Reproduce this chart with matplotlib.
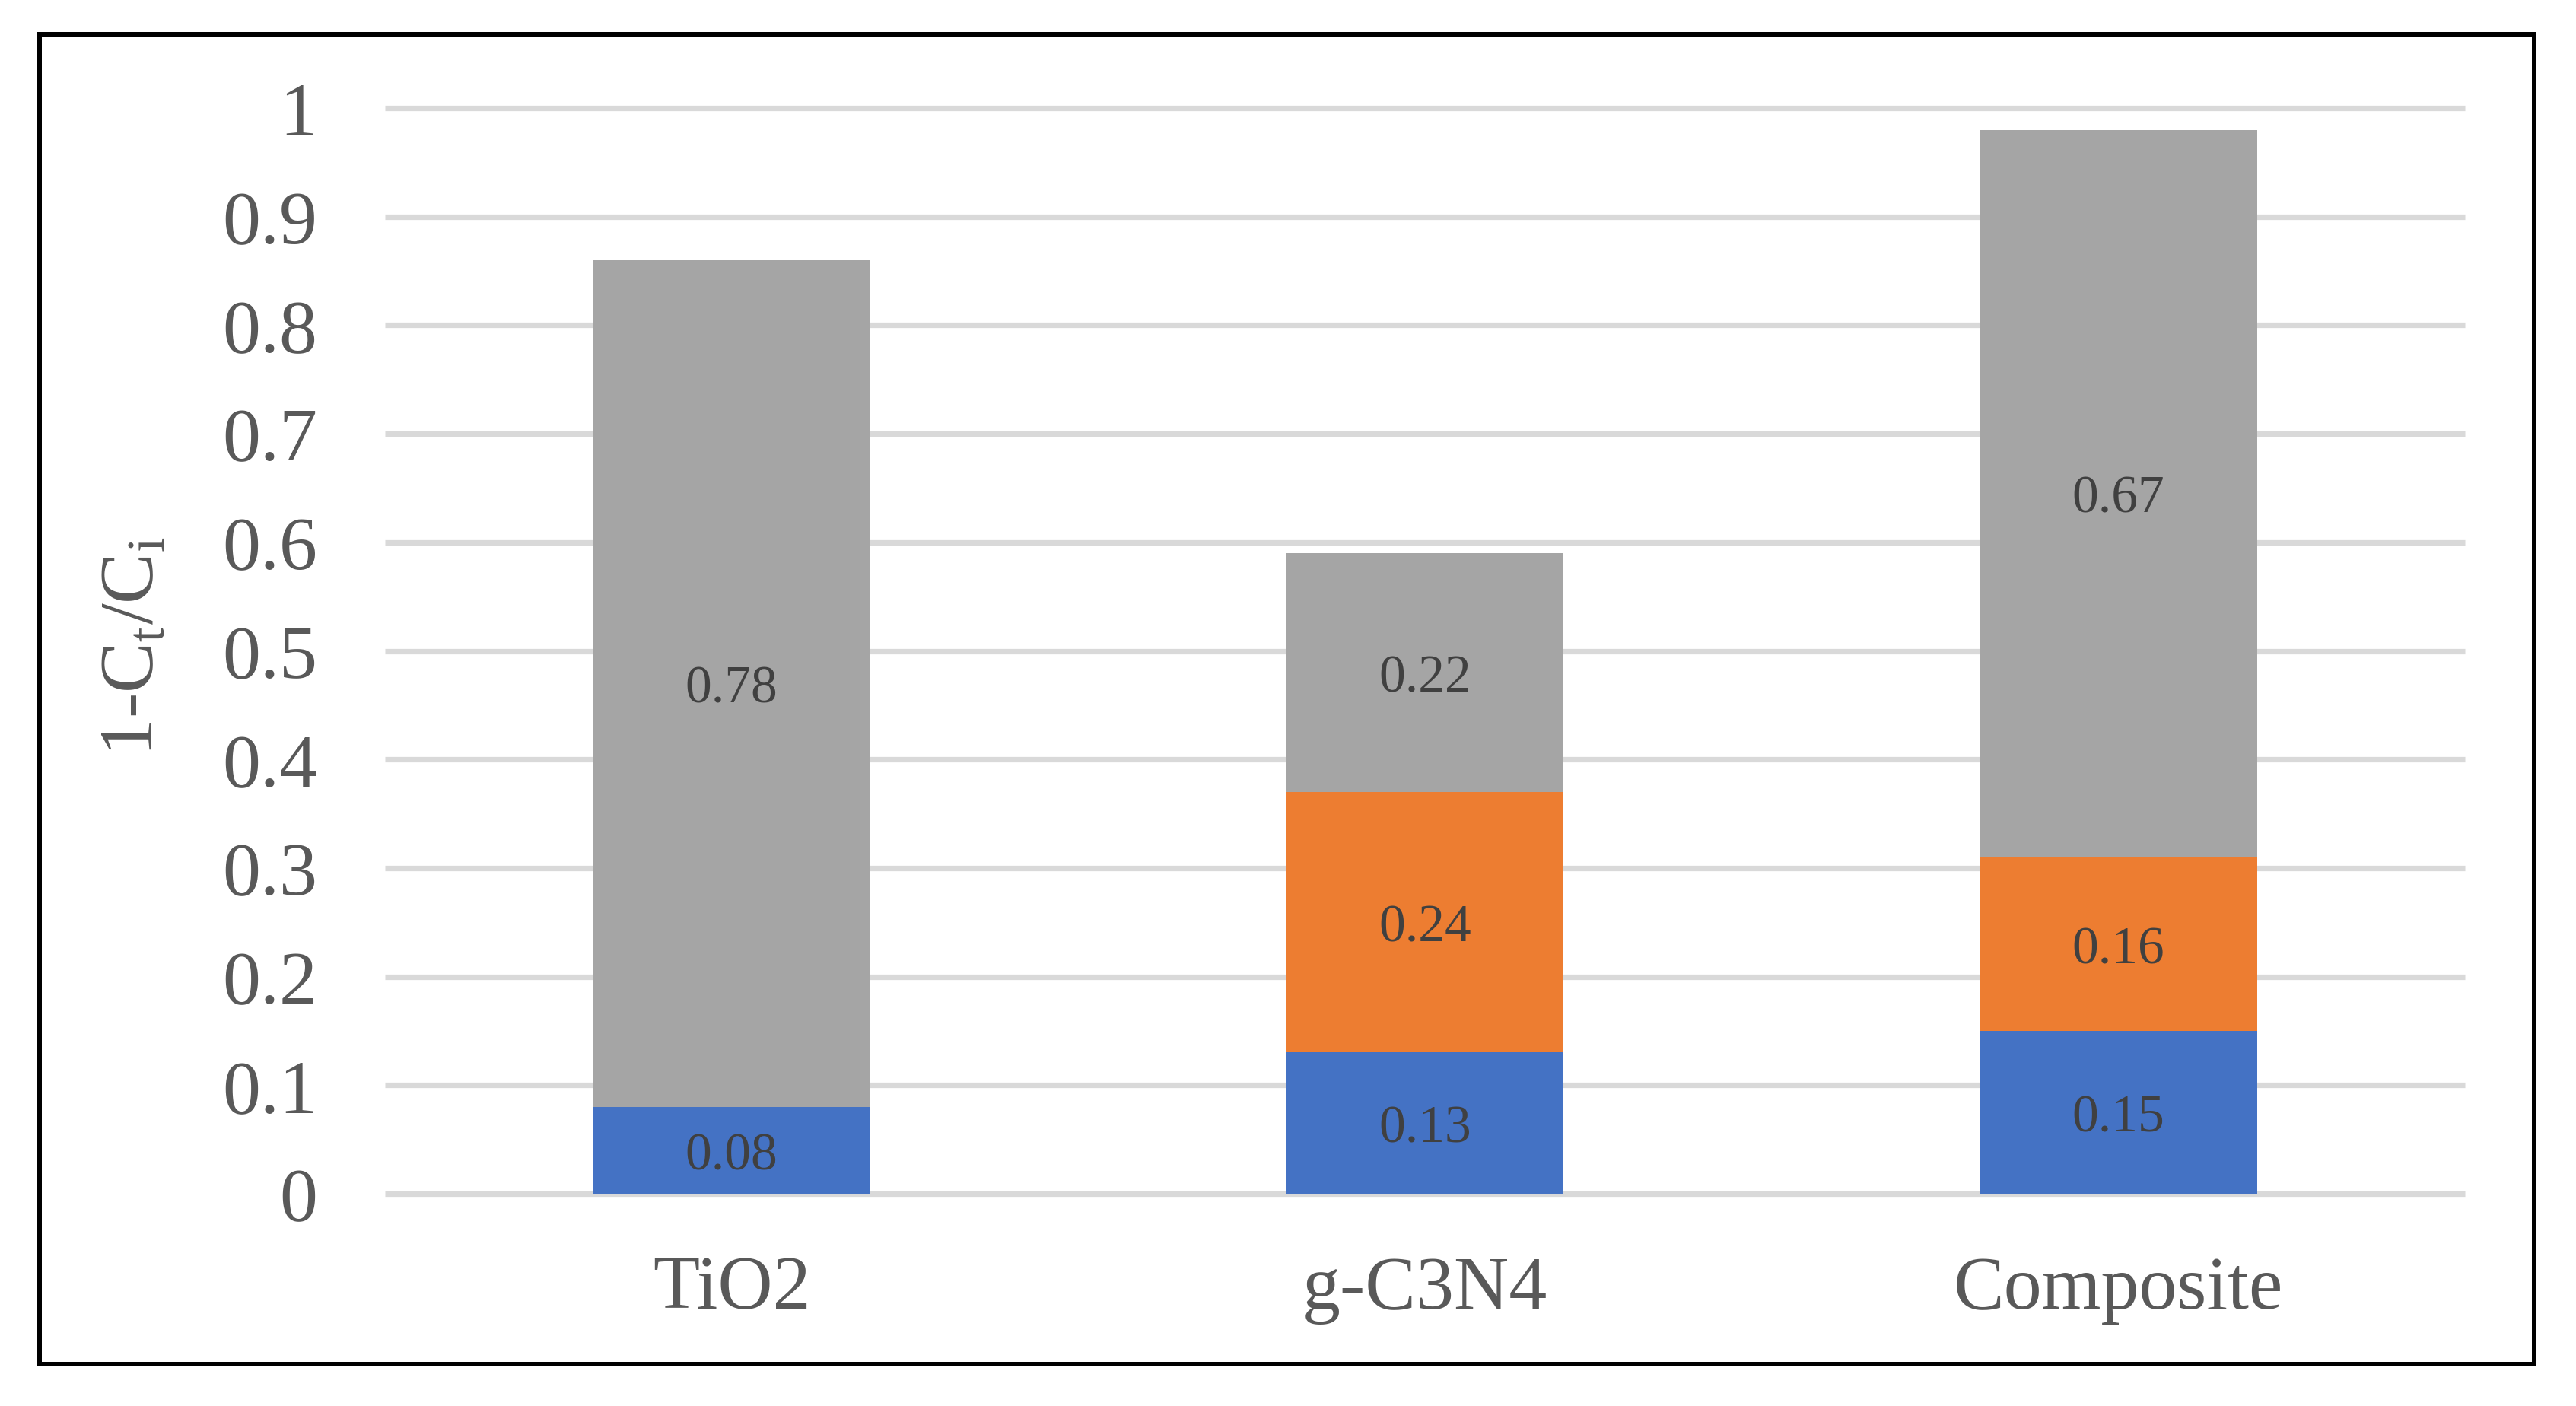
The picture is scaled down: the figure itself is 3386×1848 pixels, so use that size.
import numpy as np
import matplotlib
matplotlib.use("Agg")
import matplotlib.pyplot as plt
from matplotlib.patches import Rectangle

# chart data
categories = ["TiO2", "g-C3N4", "Composite"]
blue_vals = [0.08, 0.13, 0.15]
orange_vals = [0.0, 0.24, 0.16]
gray_vals = [0.78, 0.22, 0.67]
y_ticks = [0, 0.1, 0.2, 0.3, 0.4, 0.5, 0.6, 0.7, 0.8, 0.9, 1]
y_tick_labels = ["0", "0.1", "0.2", "0.3", "0.4", "0.5", "0.6", "0.7", "0.8", "0.9", "1"]

plt.rcParams["font.family"] = ["Liberation Serif", "DejaVu Serif"]
plt.rcParams["mathtext.fontset"] = "custom"
plt.rcParams["mathtext.rm"] = "Liberation Serif"

DPI = 200
fig = plt.figure(figsize=(3387 / DPI, 1849 / DPI), dpi=DPI)
ax = fig.add_axes([506 / 3387, 279 / 1849, 2734 / 3387, 1427 / 1849])

x = np.arange(len(categories))
width = 0.4
blue = np.array(blue_vals)
orange = np.array(orange_vals)
gray = np.array(gray_vals)

series = [
    (blue, np.zeros(3), "#4472C4"),
    (orange, blue, "#ED7D31"),
    (gray, blue + orange, "#A5A5A5"),
]
for vals, bottom, color in series:
    ax.bar(x, vals, width=width, bottom=bottom, color=color, zorder=2)
    for xi, v, b in zip(x, vals, bottom):
        if v > 0:
            ax.text(xi, b + v / 2, f"{v:.2f}", ha="center", va="center_baseline",
                    fontsize=25, color="#404040", zorder=3)

# gridlines
ax.hlines(y_ticks, -0.5, 2.5, color="#D9D9D9", lw=2.6, zorder=0, clip_on=False)

ax.set_xlim(-0.5, 2.5)
ax.set_ylim(0, 1)
ax.set_yticks(y_ticks)
ax.set_yticklabels(y_tick_labels)
ax.set_xticks(x)
ax.set_xticklabels(categories)
ax.tick_params(axis="y", length=0, pad=32, labelsize=36, labelcolor="#595959")
ax.tick_params(axis="x", length=0, pad=29, labelsize=36, labelcolor="#595959")
for s in ax.spines.values():
    s.set_visible(False)

fig.text(176 / 3387, 1 - 850 / 1849, "1-C$_\\mathregular{t}$/C$_\\mathregular{i}$",
         rotation=90, ha="center", va="center", fontsize=36, color="#595959")

# outer black frame
frame = Rectangle((52 / 3387, 55.5 / 1849), (3331 - 52) / 3387, (1803.5 - 55.5) / 1849,
                  transform=fig.transFigure, fill=False, edgecolor="black",
                  lw=2.16, joinstyle="miter")
fig.add_artist(frame)

fig.savefig("out.png", dpi=DPI, facecolor="white")
